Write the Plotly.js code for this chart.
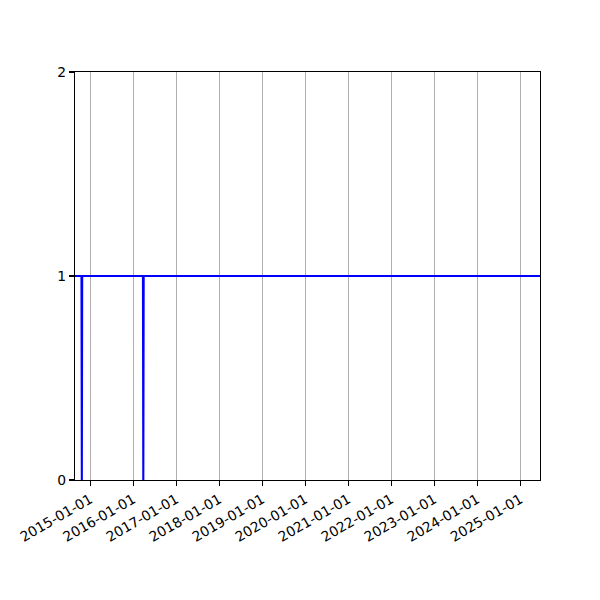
<!DOCTYPE html>
<html>
<head>
<meta charset="utf-8">
<script src="https://cdn.plot.ly/plotly-3.0.1.min.js"></script>
<style>html,body{margin:0;padding:0;background:#fff;}#chart{width:600px;height:600px;}</style>
</head>
<body>
<div id="chart"></div>
<script>
const dates = ['2014-08-26', '2014-10-20', '2014-10-23', '2014-10-26', '2016-03-25', '2016-03-28', '2016-03-31', '2025-06-17'];
const values = [1, 1, 0, 1, 1, 0, 1, 1];
const tickDates = ['2015-01-01','2016-01-01','2017-01-01','2018-01-01','2019-01-01','2020-01-01','2021-01-01','2022-01-01','2023-01-01','2024-01-01','2025-01-01'];
const tickLabels = tickDates.slice();
const yTicks = [0, 1, 2];
const xRange = ['2014-08-26', '2025-06-17'];

const font = {family: 'DejaVu Sans', size: 13.9, color: '#000'};
Plotly.newPlot('chart', [{
  x: dates, y: values, type: 'scatter', mode: 'lines',
  line: {color: '#0000ff', width: 2.1}, hoverinfo: 'skip'
}], {
  width: 600, height: 600,
  margin: {l: 75, r: 60, t: 72, b: 120, pad: 0},
  paper_bgcolor: '#fff', plot_bgcolor: '#fff',
  showlegend: false,
  font: font,
  xaxis: {
    type: 'date', range: xRange,
    tickvals: tickDates, ticktext: tickLabels, tickangle: -30,
    showgrid: true, gridcolor: '#b0b0b0', gridwidth: 1.1,
    showline: true, linecolor: '#000', linewidth: 1.1, mirror: true,
    ticks: 'outside', ticklen: 5, tickwidth: 1.1, tickcolor: '#000',
    zeroline: false, tickfont: font
  },
  yaxis: {
    range: [0, 2], tickvals: yTicks, ticktext: yTicks.map(String),
    showgrid: false,
    showline: true, linecolor: '#000', linewidth: 1.1, mirror: true,
    ticks: 'outside', ticklen: 5, tickwidth: 1.1, tickcolor: '#000',
    zeroline: false, tickfont: font
  }
}, {displayModeBar: false, staticPlot: true});
</script>
</body>
</html>
